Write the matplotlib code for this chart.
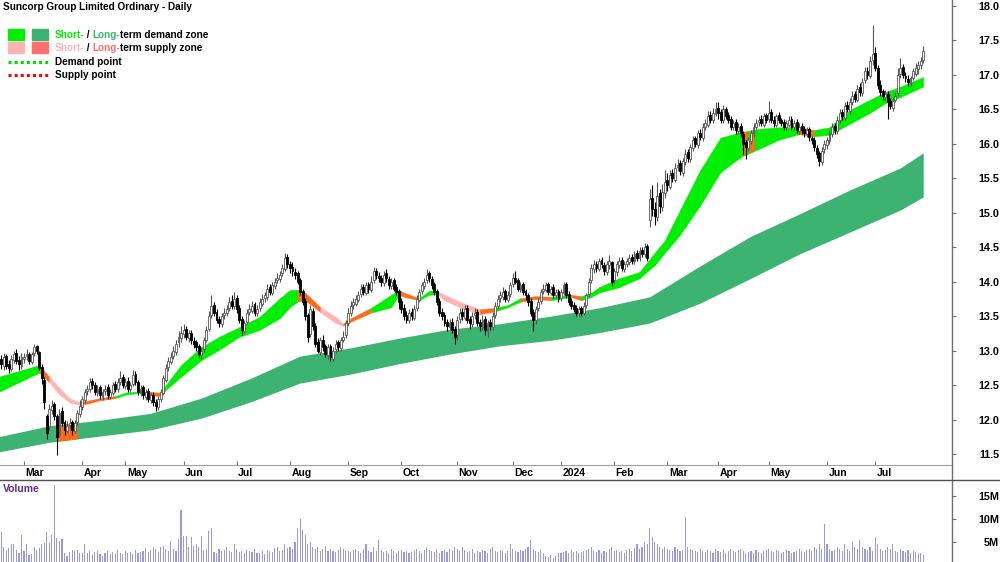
import numpy as np
import pandas as pd
import matplotlib
matplotlib.use("Agg")
import matplotlib.pyplot as plt
from matplotlib.lines import Line2D
from matplotlib.transforms import IdentityTransform
from matplotlib.font_manager import FontProperties

# ---- data ---------------------------------------------------------------
asx_holidays = ["2023-04-07", "2023-04-10", "2023-04-25", "2023-06-12",
                "2023-12-25", "2023-12-26", "2024-01-01", "2024-01-26",
                "2024-03-29", "2024-04-01", "2024-04-25", "2024-06-10"]

opens = [
    # Feb 2023
    12.80, 12.88, 12.78, 12.92, 12.80, 12.74, 12.86, 12.97, 12.86, 12.78,
    # Mar 2023
    12.88, 12.92, 12.95, 12.84, 12.96, 13.06, 12.98, 12.76, 12.58, 12.05,
    11.90, 12.14, 12.22, 12.05, 11.78, 12.12, 11.96, 11.84, 11.92, 11.97,
    11.84, 11.96, 12.08,
    # Apr 2023
    12.18, 12.28, 12.42, 12.44, 12.56, 12.50, 12.38, 12.47, 12.33, 12.42,
    12.47, 12.33, 12.38, 12.52, 12.44, 12.55, 12.62,
    # May 2023
    12.48, 12.56, 12.44, 12.52, 12.66, 12.54, 12.38, 12.47, 12.33, 12.42,
    12.28, 12.36, 12.26, 12.18, 12.30, 12.38, 12.58, 12.76, 12.84, 12.92,
    12.98, 13.12, 13.18,
    # Jun 2023
    13.24, 13.32, 13.18, 13.26, 13.14, 13.12, 13.06, 12.94, 13.02, 13.16,
    13.32, 13.52, 13.66, 13.56, 13.46, 13.38, 13.52, 13.54, 13.62, 13.72,
    13.64,
    # Jul 2023
    13.76, 13.62, 13.46, 13.28, 13.42, 13.56, 13.58, 13.68, 13.54, 13.62,
    13.68, 13.76, 13.78, 13.92, 13.84, 13.94, 14.02, 14.04, 14.12, 14.18,
    14.36,
    # Aug 2023
    14.26, 14.22, 14.14, 14.12, 14.02, 13.86, 13.72, 13.52, 13.24, 13.58,
    13.36, 13.12, 12.98, 13.16, 13.06, 12.94, 13.06, 12.88, 13.02, 13.12,
    13.04, 13.16, 13.22,
    # Sep 2023
    13.40, 13.54, 13.66, 13.68, 13.74, 13.82, 13.92, 13.84, 13.96, 13.88,
    14.02, 14.16, 14.08, 14.06, 13.98, 14.12, 14.04, 13.94, 14.02, 13.92,
    13.86,
    # Oct 2023
    13.72, 13.62, 13.52, 13.44, 13.56, 13.48, 13.62, 13.74, 13.86, 13.94,
    14.02, 14.12, 14.04, 13.96, 13.86, 13.72, 13.56, 13.52, 13.42, 13.34,
    13.42, 13.32,
    # Nov 2023
    13.22, 13.46, 13.56, 13.48, 13.62, 13.46, 13.38, 13.52, 13.56, 13.42,
    13.34, 13.46, 13.28, 13.42, 13.34, 13.52, 13.64, 13.76, 13.78, 13.86,
    13.74, 13.82,
    # Dec 2023
    13.96, 14.06, 14.02, 13.88, 13.96, 13.86, 13.80, 13.72, 13.56, 13.44,
    13.62, 13.72, 13.86, 13.88, 13.96, 13.84, 13.92, 13.80, 13.86,
    # Jan 2024
    13.76, 13.84, 13.96, 13.82, 13.72, 13.66, 13.62, 13.54, 13.62, 13.54,
    13.66, 13.82, 14.02, 14.18, 14.26, 14.18, 14.32, 14.24, 14.14, 14.24,
    14.28,
    # Feb 2024
    14.02, 14.14, 14.24, 14.32, 14.18, 14.26, 14.28, 14.36, 14.30, 14.42,
    14.34, 14.46, 14.40, 14.52, 14.90, 15.22, 15.06, 14.94, 15.28, 15.08,
    15.28,
    # Mar 2024
    15.48, 15.38, 15.58, 15.48, 15.66, 15.72, 15.58, 15.74, 15.88, 15.78,
    15.94, 16.08, 15.98, 16.16, 16.08, 16.24, 16.28, 16.42, 16.34, 16.44,
    # Apr 2024
    16.52, 16.46, 16.34, 16.50, 16.42, 16.36, 16.24, 16.32, 16.18, 16.26,
    16.14, 16.02, 15.94, 16.04, 16.16, 16.24, 16.32, 16.36, 16.28, 16.42,
    # May 2024
    16.36, 16.46, 16.34, 16.28, 16.42, 16.34, 16.32, 16.24, 16.28, 16.36,
    16.24, 16.32, 16.18, 16.26, 16.22, 16.14, 16.22, 16.08, 16.06, 15.94,
    15.86, 15.74, 15.92,
    # Jun 2024
    15.98, 16.04, 16.14, 16.26, 16.18, 16.34, 16.46, 16.38, 16.56, 16.48,
    16.60, 16.72, 16.64, 16.82, 16.74, 16.92, 17.06, 16.98, 17.22,
    # Jul 2024
    17.32, 17.10, 16.86, 16.76, 16.68, 16.72, 16.62, 16.52, 16.64, 16.74,
    17.02, 17.12, 16.98, 16.94, 16.88, 16.96, 17.02, 17.08, 17.14, 17.22,
]

highs = [
    12.92, 12.93, 12.96, 12.95, 12.86, 12.93, 13.00, 13.02, 12.92, 12.96,
    12.96, 13.02, 12.98, 12.98, 13.10, 13.08, 13.00, 12.80, 12.62, 12.08,
    12.22, 12.28, 12.25, 12.08, 12.15, 12.18, 12.00, 11.98, 12.02, 12.00,
    12.00, 12.14, 12.28,
    12.34, 12.45, 12.50, 12.60, 12.60, 12.54, 12.50, 12.50, 12.44, 12.50,
    12.52, 12.45, 12.55, 12.56, 12.60, 12.70, 12.66,
    12.60, 12.62, 12.54, 12.72, 12.70, 12.58, 12.50, 12.50, 12.45, 12.46,
    12.40, 12.40, 12.30, 12.34, 12.45, 12.65, 12.80, 12.90, 12.98, 13.06,
    13.15, 13.28, 13.35,
    13.38, 13.36, 13.30, 13.30, 13.20, 13.16, 13.10, 13.05, 13.20, 13.35,
    13.58, 13.80, 13.70, 13.60, 13.50, 13.55, 13.62, 13.66, 13.78, 13.80,
    13.85,
    13.80, 13.66, 13.50, 13.45, 13.60, 13.68, 13.72, 13.70, 13.66, 13.76,
    13.82, 13.85, 13.96, 13.96, 14.00, 14.06, 14.12, 14.16, 14.26, 14.42,
    14.40,
    14.30, 14.28, 14.20, 14.16, 14.06, 13.90, 13.76, 13.55, 13.66, 13.62,
    13.40, 13.18, 13.20, 13.22, 13.10, 13.10, 13.10, 13.05, 13.16, 13.16,
    13.20, 13.28, 13.45,
    13.62, 13.72, 13.76, 13.80, 13.86, 13.96, 13.96, 14.00, 14.00, 14.08,
    14.22, 14.20, 14.14, 14.10, 14.16, 14.18, 14.08, 14.05, 14.06, 13.96,
    13.90,
    13.76, 13.68, 13.58, 13.60, 13.62, 13.66, 13.80, 13.90, 14.00, 14.06,
    14.18, 14.16, 14.08, 14.00, 13.90, 13.76, 13.62, 13.56, 13.46, 13.46,
    13.48, 13.36,
    13.50, 13.62, 13.62, 13.66, 13.66, 13.50, 13.56, 13.62, 13.60, 13.46,
    13.52, 13.50, 13.44, 13.46, 13.56, 13.70, 13.80, 13.86, 13.92, 13.90,
    13.86, 14.00,
    14.12, 14.15, 14.05, 14.00, 14.00, 13.90, 13.84, 13.76, 13.60, 13.65,
    13.76, 13.90, 13.96, 14.00, 14.00, 13.94, 13.96, 13.90, 13.90,
    13.90, 14.00, 14.00, 13.86, 13.76, 13.70, 13.66, 13.64, 13.64, 13.70,
    13.84, 14.05, 14.25, 14.32, 14.30, 14.35, 14.36, 14.28, 14.30, 14.38,
    14.30,
    14.20, 14.30, 14.36, 14.36, 14.30, 14.34, 14.40, 14.40, 14.45, 14.46,
    14.50, 14.50, 14.56, 14.55, 15.35, 15.40, 15.15, 15.45, 15.35, 15.42,
    15.62,
    15.58, 15.62, 15.64, 15.72, 15.78, 15.76, 15.80, 15.92, 15.92, 16.00,
    16.12, 16.12, 16.20, 16.22, 16.30, 16.36, 16.48, 16.48, 16.52, 16.60,
    16.60, 16.50, 16.56, 16.54, 16.46, 16.40, 16.34, 16.36, 16.30, 16.30,
    16.18, 16.06, 16.10, 16.20, 16.30, 16.36, 16.40, 16.42, 16.45, 16.45,
    16.62, 16.50, 16.40, 16.44, 16.46, 16.38, 16.36, 16.34, 16.40, 16.40,
    16.34, 16.36, 16.30, 16.30, 16.26, 16.24, 16.24, 16.12, 16.10, 15.98,
    15.90, 15.96, 16.06,
    16.10, 16.20, 16.30, 16.30, 16.40, 16.50, 16.50, 16.60, 16.62, 16.66,
    16.76, 16.76, 16.86, 16.88, 16.96, 17.12, 17.12, 17.28, 17.72,
    17.40, 17.14, 16.92, 16.80, 16.78, 16.76, 16.66, 16.66, 16.75, 17.10,
    17.24, 17.16, 17.04, 17.00, 16.98, 17.10, 17.18, 17.20, 17.26, 17.42,
]

lows = [
    12.74, 12.74, 12.72, 12.73, 12.68, 12.70, 12.82, 12.80, 12.72, 12.74,
    12.82, 12.86, 12.80, 12.80, 12.92, 12.95, 12.72, 12.52, 12.15, 11.72,
    11.85, 12.08, 12.00, 11.48, 11.74, 11.90, 11.78, 11.80, 11.86, 11.78,
    11.80, 11.92, 12.04,
    12.14, 12.24, 12.36, 12.40, 12.45, 12.36, 12.34, 12.30, 12.28, 12.36,
    12.30, 12.30, 12.35, 12.40, 12.40, 12.50, 12.46,
    12.44, 12.40, 12.40, 12.48, 12.50, 12.36, 12.34, 12.30, 12.28, 12.26,
    12.24, 12.20, 12.12, 12.14, 12.26, 12.36, 12.55, 12.70, 12.80, 12.88,
    12.94, 13.05, 13.12,
    13.18, 13.15, 13.12, 13.10, 13.04, 13.00, 12.90, 12.88, 12.98, 13.12,
    13.28, 13.48, 13.50, 13.40, 13.34, 13.34, 13.46, 13.50, 13.58, 13.60,
    13.60,
    13.55, 13.40, 13.22, 13.25, 13.38, 13.52, 13.55, 13.50, 13.50, 13.58,
    13.64, 13.70, 13.74, 13.80, 13.80, 13.90, 13.98, 14.00, 14.08, 14.15,
    14.20,
    14.12, 14.08, 14.04, 13.96, 13.80, 13.66, 13.45, 13.12, 13.20, 13.30,
    13.05, 12.96, 12.94, 13.00, 12.90, 12.88, 12.85, 12.85, 12.96, 13.00,
    13.00, 13.12, 13.18,
    13.36, 13.50, 13.60, 13.64, 13.70, 13.78, 13.80, 13.80, 13.84, 13.85,
    13.98, 14.04, 14.00, 13.94, 13.94, 14.00, 13.90, 13.90, 13.86, 13.80,
    13.60,
    13.55, 13.45, 13.40, 13.40, 13.44, 13.44, 13.58, 13.70, 13.82, 13.90,
    13.98, 14.00, 13.90, 13.80, 13.66, 13.50, 13.45, 13.36, 13.28, 13.30,
    13.25, 13.10,
    13.15, 13.40, 13.44, 13.44, 13.40, 13.32, 13.34, 13.46, 13.36, 13.28,
    13.30, 13.22, 13.20, 13.30, 13.30, 13.48, 13.60, 13.70, 13.74, 13.70,
    13.70, 13.78,
    13.92, 13.96, 13.86, 13.85, 13.80, 13.74, 13.64, 13.50, 13.28, 13.38,
    13.58, 13.68, 13.82, 13.85, 13.80, 13.80, 13.76, 13.76, 13.70,
    13.72, 13.80, 13.76, 13.66, 13.60, 13.56, 13.50, 13.50, 13.50, 13.52,
    13.62, 13.78, 13.98, 14.12, 14.14, 14.15, 14.20, 14.10, 14.10, 14.18,
    13.94,
    13.98, 14.08, 14.20, 14.16, 14.14, 14.22, 14.24, 14.26, 14.26, 14.30,
    14.30, 14.36, 14.36, 14.30, 14.80, 14.95, 14.82, 14.88, 15.00, 15.02,
    15.22,
    15.32, 15.34, 15.44, 15.44, 15.60, 15.55, 15.54, 15.70, 15.74, 15.74,
    15.90, 15.95, 15.94, 16.05, 16.04, 16.20, 16.24, 16.30, 16.30, 16.40,
    16.36, 16.30, 16.30, 16.36, 16.30, 16.20, 16.20, 16.14, 16.14, 16.10,
    15.85, 15.78, 15.90, 16.00, 16.10, 16.20, 16.26, 16.26, 16.24, 16.30,
    16.32, 16.30, 16.24, 16.24, 16.30, 16.26, 16.20, 16.20, 16.24, 16.20,
    16.20, 16.16, 16.14, 16.14, 16.10, 16.10, 16.04, 16.00, 15.90, 15.80,
    15.68, 15.70, 15.86,
    15.92, 16.00, 16.10, 16.14, 16.14, 16.30, 16.34, 16.34, 16.46, 16.44,
    16.56, 16.60, 16.60, 16.70, 16.70, 16.88, 16.94, 16.95, 17.15,
    17.05, 16.80, 16.70, 16.64, 16.62, 16.36, 16.50, 16.48, 16.60, 16.70,
    16.96, 16.96, 16.90, 16.84, 16.84, 16.92, 16.98, 17.02, 17.08, 17.18,
]

closes = [
    12.85, 12.80, 12.90, 12.78, 12.75, 12.88, 12.95, 12.85, 12.80, 12.90,
    12.90, 12.95, 12.85, 12.95, 13.05, 13.00, 12.75, 12.60, 12.25, 11.80,
    12.15, 12.20, 12.05, 11.75, 12.10, 11.95, 11.85, 11.90, 11.95, 11.85,
    11.95, 12.10, 12.20,
    12.30, 12.40, 12.45, 12.55, 12.50, 12.40, 12.45, 12.35, 12.40, 12.45,
    12.35, 12.40, 12.50, 12.45, 12.55, 12.60, 12.50,
    12.55, 12.45, 12.50, 12.65, 12.55, 12.40, 12.45, 12.35, 12.40, 12.30,
    12.35, 12.25, 12.20, 12.30, 12.40, 12.60, 12.75, 12.85, 12.90, 13.00,
    13.10, 13.20, 13.25,
    13.30, 13.20, 13.25, 13.15, 13.10, 13.05, 12.95, 13.00, 13.15, 13.30,
    13.50, 13.65, 13.55, 13.45, 13.40, 13.50, 13.55, 13.60, 13.70, 13.65,
    13.75,
    13.60, 13.45, 13.30, 13.40, 13.55, 13.60, 13.65, 13.55, 13.60, 13.70,
    13.75, 13.80, 13.90, 13.85, 13.95, 14.00, 14.05, 14.10, 14.20, 14.35,
    14.25,
    14.20, 14.15, 14.10, 14.00, 13.85, 13.70, 13.50, 13.20, 13.60, 13.35,
    13.10, 13.00, 13.15, 13.05, 12.95, 13.05, 12.90, 13.00, 13.10, 13.05,
    13.15, 13.20, 13.40,
    13.55, 13.65, 13.70, 13.75, 13.80, 13.90, 13.85, 13.95, 13.90, 14.00,
    14.15, 14.10, 14.05, 14.00, 14.10, 14.05, 13.95, 14.00, 13.90, 13.85,
    13.70,
    13.60, 13.50, 13.45, 13.55, 13.50, 13.60, 13.75, 13.85, 13.95, 14.00,
    14.10, 14.05, 13.95, 13.85, 13.70, 13.55, 13.50, 13.40, 13.35, 13.40,
    13.30, 13.20,
    13.45, 13.55, 13.50, 13.60, 13.45, 13.40, 13.50, 13.55, 13.40, 13.35,
    13.45, 13.30, 13.40, 13.35, 13.50, 13.65, 13.75, 13.80, 13.85, 13.75,
    13.80, 13.95,
    14.05, 14.00, 13.90, 13.95, 13.85, 13.80, 13.70, 13.55, 13.45, 13.60,
    13.70, 13.85, 13.90, 13.95, 13.85, 13.90, 13.80, 13.85, 13.75,
    13.85, 13.95, 13.80, 13.70, 13.65, 13.60, 13.55, 13.60, 13.55, 13.65,
    13.80, 14.00, 14.20, 14.25, 14.20, 14.30, 14.25, 14.15, 14.25, 14.30,
    14.00,
    14.15, 14.25, 14.30, 14.20, 14.25, 14.30, 14.35, 14.30, 14.40, 14.35,
    14.45, 14.40, 14.50, 14.35, 15.20, 15.05, 14.95, 15.25, 15.10, 15.30,
    15.45,
    15.40, 15.55, 15.50, 15.65, 15.70, 15.60, 15.75, 15.85, 15.80, 15.95,
    16.05, 16.00, 16.15, 16.10, 16.25, 16.30, 16.40, 16.35, 16.45, 16.50,
    16.45, 16.35, 16.50, 16.40, 16.35, 16.25, 16.30, 16.20, 16.25, 16.15,
    16.00, 15.95, 16.05, 16.15, 16.25, 16.30, 16.35, 16.30, 16.40, 16.35,
    16.45, 16.35, 16.30, 16.40, 16.35, 16.30, 16.25, 16.30, 16.35, 16.25,
    16.30, 16.20, 16.25, 16.20, 16.15, 16.20, 16.10, 16.05, 15.95, 15.85,
    15.75, 15.90, 16.00,
    16.05, 16.15, 16.25, 16.20, 16.35, 16.45, 16.40, 16.55, 16.50, 16.60,
    16.70, 16.65, 16.80, 16.75, 16.90, 17.05, 17.00, 17.20, 17.30,
    17.10, 16.85, 16.75, 16.70, 16.72, 16.60, 16.55, 16.62, 16.70, 17.00,
    17.10, 17.00, 16.95, 16.90, 16.95, 17.05, 17.10, 17.15, 17.20, 17.35,
]

volumes_m = [
    3.0, 7.2, 3.9, 3.3, 3.7, 4.6, 4.6, 3.3, 2.6, 6.5,
    3.1, 4.6, 2.1, 2.3, 3.9, 3.3, 3.6, 4.6, 4.8, 7.1, 4.8, 6.5, 17.4, 5.9,
    5.2, 5.7, 2.6, 2.0, 2.8, 3.3, 3.0, 3.2, 2.6,
    2.5, 4.5, 2.6, 3.0, 2.2, 2.8, 3.0, 2.4, 2.0, 2.6, 3.0, 2.3, 2.8, 2.6,
    3.2, 2.7, 2.4,
    3.0, 2.6, 2.8, 2.4, 3.2, 2.5, 2.8, 3.0, 3.6, 2.8, 3.2, 4.0, 3.5, 2.8,
    4.0, 4.2, 3.5, 3.0, 5.3, 3.5, 3.0, 5.7, 12.0,
    6.3, 6.3, 3.9, 6.0, 4.2, 4.6, 3.9, 6.3, 3.3, 3.5, 7.4, 8.0, 2.8, 2.6,
    3.5, 3.0, 3.2, 4.0, 3.0, 2.8, 4.5,
    3.5, 2.8, 3.0, 2.6, 3.2, 3.0, 2.8, 3.4, 2.5, 2.7, 3.0, 2.4, 3.2, 3.0,
    2.8, 3.6, 4.0, 3.0, 3.2, 4.5, 3.8,
    4.0, 3.5, 5.0, 8.0, 10.0, 7.5, 6.5, 4.5, 5.0, 4.0, 3.5, 4.0, 3.0, 3.5,
    4.2, 3.0, 3.5, 3.0, 2.8, 3.2, 4.0, 3.5, 3.0,
    3.0, 2.8, 3.2, 3.5, 3.0, 2.6, 3.5, 4.5, 3.0, 2.8, 4.0, 3.0, 5.5, 3.2,
    2.8, 3.0, 2.6, 3.5, 3.0, 2.5, 3.0,
    3.2, 2.8, 3.0, 2.5, 2.8, 3.0, 3.5, 3.0, 2.6, 3.2, 4.0, 3.2, 3.0, 2.8,
    3.5, 2.6, 3.0, 3.2, 2.8, 3.5, 3.0, 4.0,
    3.5, 3.0, 4.0, 3.2, 2.8, 3.0, 3.5, 2.6, 3.0, 2.8, 3.2, 3.0, 2.6, 3.5,
    4.0, 3.0, 2.8, 3.2, 3.0, 2.5, 3.0, 4.5,
    3.5, 3.0, 2.8, 3.2, 3.0, 3.5, 4.0, 5.5, 3.5, 3.0, 2.8, 3.2, 2.5, 2.0,
    1.8, 2.2, 1.5, 2.0, 2.5,
    2.5, 2.8, 3.0, 2.6, 3.2, 2.8, 3.0, 2.5, 2.8, 3.0, 3.2, 3.5, 4.0, 3.0,
    2.8, 3.2, 2.6, 3.0, 2.8, 3.5, 4.0,
    3.0, 3.2, 2.8, 3.0, 2.6, 3.2, 3.5, 3.0, 3.8, 4.5, 3.5, 4.0, 5.0, 4.5,
    8.0, 6.0, 5.0, 4.5, 4.0, 3.5, 4.0,
    3.5, 3.2, 3.0, 4.0, 3.5, 3.0, 3.2, 10.5, 4.0, 3.5, 3.2, 3.0, 2.8, 3.5,
    3.0, 2.8, 3.2, 3.0, 2.6, 3.5,
    3.0, 2.8, 3.2, 2.6, 3.0, 3.5, 3.0, 2.8, 3.2, 3.5, 3.0, 2.5, 2.8, 3.0,
    2.6, 3.2, 2.8, 2.5, 3.0, 3.2,
    3.5, 3.0, 2.8, 3.2, 3.0, 2.6, 2.8, 3.2, 3.0, 2.5, 2.8, 3.0, 3.5, 3.0,
    2.8, 3.2, 3.5, 3.0, 4.0, 3.5, 4.5, 3.5, 9.0,
    4.5, 3.5, 3.0, 3.2, 4.0, 3.5, 3.0, 4.5, 3.5, 3.0, 5.0, 4.0, 3.5, 5.5,
    4.0, 3.5, 3.2, 4.0, 3.0,
    6.0, 4.5, 3.5, 3.0, 3.2, 4.0, 3.5, 4.5, 3.0, 2.8, 3.5, 3.0, 2.8, 3.2,
    2.6, 3.0, 2.8, 2.5, 2.6, 2.2,
]

# short-term zone (read at sample days)
short_idx = [0, 16, 20, 24, 28, 32, 36, 40, 46, 50, 56, 58, 64, 66, 72, 80,
             87, 95, 103, 111, 115, 118, 121, 127, 133, 136, 139, 147, 155,
             158, 160, 166, 170, 173, 176, 182, 190, 196, 201, 206, 212, 218,
             226, 230, 234, 237, 245, 253, 259, 263, 269, 277, 285, 293, 301,
             308, 316, 322, 328, 336, 344, 350, 356, 365]
short_top = [12.62, 12.79, 12.62, 12.46, 12.31, 12.25, 12.28, 12.31, 12.34,
             12.39, 12.41, 12.40, 12.39, 12.50, 12.79, 13.05, 13.20, 13.34,
             13.49, 13.76, 13.88, 13.88, 13.84, 13.63, 13.49, 13.39, 13.47,
             13.62, 13.81, 13.88, 13.84, 13.76, 13.87, 13.87, 13.81, 13.71,
             13.60, 13.62, 13.66, 13.76, 13.79, 13.78, 13.81, 13.79, 13.84,
             13.92, 14.05, 14.14, 14.42, 14.60, 15.04, 15.62, 16.09, 16.17,
             16.22, 16.24, 16.24, 16.20, 16.24, 16.49, 16.64, 16.75, 16.83,
             16.97]
short_bot = [12.40, 12.68, 12.54, 12.36, 12.25, 12.21, 12.24, 12.28, 12.31,
             12.36, 12.39, 12.36, 12.34, 12.43, 12.62, 12.86, 13.01, 13.20,
             13.30, 13.47, 13.63, 13.71, 13.73, 13.56, 13.40, 13.36, 13.42,
             13.55, 13.63, 13.81, 13.78, 13.73, 13.81, 13.82, 13.73, 13.63,
             13.53, 13.57, 13.63, 13.71, 13.75, 13.73, 13.78, 13.73, 13.78,
             13.84, 13.92, 14.05, 14.24, 14.42, 14.68, 15.11, 15.59, 15.81,
             15.94, 16.06, 16.14, 16.11, 16.13, 16.29, 16.45, 16.59, 16.68,
             16.83]
# g = demand (green), p = supply (pink), o = turning (orange)
short_state = "gopppooo" "ggoo" "ggggggggg" "oo" "pp" "oo" "gg" "oo" "gg" \
              "ppp" "o" "gg" "oo" "g" "o" "ggggggggggggg" "o" "gggggg"

# long-term zone
long_idx = [0, 20, 40, 60, 80, 99, 119, 139, 158, 178, 198, 218, 237, 257,
            277, 297, 316, 336, 356, 365]
long_top = [11.75, 11.91, 11.99, 12.09, 12.31, 12.59, 12.92, 13.04, 13.18,
            13.31, 13.39, 13.50, 13.62, 13.78, 14.23, 14.66, 14.98, 15.33,
            15.65, 15.87]
long_bot = [11.53, 11.67, 11.76, 11.85, 12.02, 12.25, 12.53, 12.66, 12.81,
            12.95, 13.07, 13.15, 13.26, 13.40, 13.69, 14.05, 14.40, 14.72,
            15.04, 15.23]

# days where price tested a zone (highlighted orange)
tests = [(23, 31, "long"), (294, 295.6, "short"), (296.5, 298.3, "short"),
         (350.6, 351.6, "short")]

# ---- derived ------------------------------------------------------------
dates = pd.bdate_range("2023-02-15", "2024-07-26")
dates = dates[~dates.isin(pd.to_datetime(asx_holidays))]
n = len(dates)
opens, highs, lows, closes = map(np.array, (opens, highs, lows, closes))
vol = np.array(volumes_m) * 1e6
idx = np.arange(n)

GREEN = "#00ee00"
DKGREEN = "#3cb371"
PINK = "#ffb4b4"
RED = "#ff7070"
ORANGE = "#ff6a1a"
FAMILY = "Liberation Sans"
plt.rcParams["font.family"] = FAMILY

W, H = 1000, 562
fig = plt.figure(figsize=(W / 100, H / 100), dpi=100)
ax = fig.add_axes([0, (H - 465) / H, 0.952, 465 / H])
axv = fig.add_axes([0, 0, 0.952, (H - 480) / H], sharex=ax)

# price pane
x0, dx = -1.33, 2.533
ax.set_xlim(-x0 / dx, (952 - x0) / dx)
ax.set_ylim(18.087 - 465 / 68.92, 18.087)

ax.fill_between(long_idx, long_top, long_bot, color=DKGREEN, lw=0, zorder=1)
cmap = {"g": GREEN, "p": PINK, "o": ORANGE}
for k, s in enumerate(short_state):
    sl = slice(k, k + 2)
    ax.fill_between(short_idx[sl], short_top[sl], short_bot[sl],
                    color=cmap[s], lw=0.3, ec=cmap[s], zorder=1)
for a, b, which in tests:
    xs = np.linspace(a, b, 5)
    if which == "long":
        t, bt = np.interp(xs, long_idx, long_top), np.interp(xs, long_idx, long_bot)
    else:
        t, bt = np.interp(xs, short_idx, short_top), np.interp(xs, short_idx, short_bot)
    ax.fill_between(xs, t, bt, color=ORANGE, lw=0, zorder=2)

# candles
up = closes >= opens
ax.vlines(idx[up], lows[up], highs[up], color="#555555", lw=0.8, zorder=3)
ax.vlines(idx[~up], lows[~up], highs[~up], color="#000000", lw=0.8, zorder=3)
ax.bar(idx[up], (closes - opens)[up], bottom=opens[up], width=0.75,
       color="white", edgecolor="#555555", lw=0.6, zorder=4)
ax.bar(idx[~up], (opens - closes)[~up], bottom=closes[~up], width=0.75,
       color="black", edgecolor="black", lw=0.6, zorder=4)

# axes styling
for a_ in (ax, axv):
    for sp in ("left", "top", "right"):
        a_.spines[sp].set_visible(False)
    a_.yaxis.tick_right()
    a_.tick_params(axis="y", direction="out", length=3, color="#707070",
                   pad=31, labelsize=7.8, labelcolor="black")
ax.spines["bottom"].set_color("#a0a0a0")
ticks = np.arange(11.5, 18.01, 0.5)
ax.set_yticks(ticks)
ax.set_yticklabels([f"{v:.1f}" for v in ticks], fontweight="bold", ha="right")

# month ticks
month_start = [i for i in range(1, n) if dates[i].month != dates[i - 1].month]
ax.set_xticks(month_start)
ax.tick_params(axis="x", direction="in", length=3, color="#707070",
               labelbottom=False)
for i in month_start:
    lbl = str(dates[i].year) if dates[i].month == 1 else dates[i].strftime("%b")
    ax.annotate(lbl, (i, 0), xycoords=ax.get_xaxis_transform(),
                xytext=(1.5, -8), textcoords="offset pixels", ha="left",
                va="center", fontsize=7.5, fontweight="bold")

# volume pane
axv.set_ylim(0.65e6, (565 - 480) / 4.6 * 1e6)
axv.bar(idx, vol, width=0.45, color="#9999dd", lw=0)
axv.spines["bottom"].set_visible(False)
axv.tick_params(axis="x", length=0, labelbottom=False)
axv.set_yticks([5e6, 10e6, 15e6])
axv.set_yticklabels(["5M", "10M", "15M"], fontweight="bold", ha="right")

fig.add_artist(Line2D([0.952, 0.952], [0, 1], color="#707070", lw=1))
fig.add_artist(Line2D([0, 1], [(H - 480) / H] * 2, color="#505050", lw=1))


# ---- title & legend -----------------------------------------------------
def px(x, y):
    return x, H - y


def rich(x, y, parts, size=7.2):
    r = fig.canvas.get_renderer()
    fp = FontProperties(family=FAMILY, weight="bold", size=size)
    for s, c in parts:
        fig.text(*px(x, y), s, color=c, fontproperties=fp, va="center",
                 ha="left", transform=IdentityTransform())
        w, _, _ = r.get_text_width_height_descent(s, fp, ismath=False)
        x += w


rich(3, 7, [("Suncorp Group Limited Ordinary - Daily", "black")])
rich(3, 489, [("Volume", "#5a2d91")], size=7.5)
leg_rows = [
    (35, GREEN, DKGREEN, [("Short-", GREEN), (" / ", "black"), ("Long-", DKGREEN),
                          ("term demand zone", "black")]),
    (48, PINK, RED, [("Short-", PINK), (" / ", "black"), ("Long-", RED),
                     ("term supply zone", "black")]),
]
for y, c1, c2, parts in leg_rows:
    for xl, c in ((8, c1), (32, c2)):
        fig.patches.append(plt.Rectangle(px(xl, y + 5), 16, 11, color=c,
                                         transform=IdentityTransform()))
    rich(55, y, parts)
for y, c, s in ((62, "#00dd00", "Demand point"), (75, "#ff0000", "Supply point")):
    fig.add_artist(Line2D([8, 48], [H - y, H - y], color=c, lw=2.2,
                          ls=(0, (1, 1)), transform=IdentityTransform()))
    rich(55, y, [(s, "black")])

fig.savefig("out.png", dpi=100)
